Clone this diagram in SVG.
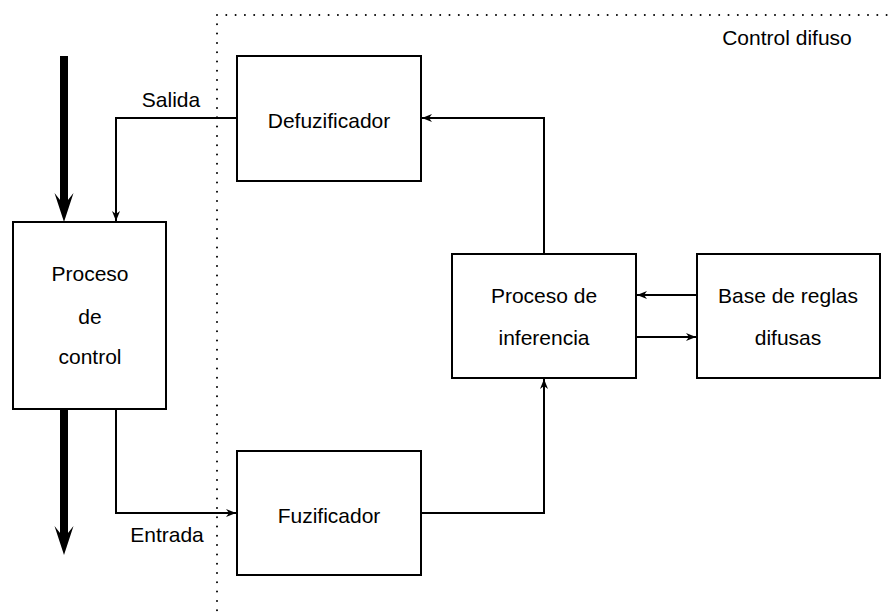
<svg xmlns="http://www.w3.org/2000/svg" width="892" height="616" viewBox="0 0 892 616">
<style>
.box{fill:#fff;stroke:#000;stroke-width:2}
.ln{fill:none;stroke:#000;stroke-width:2}
.thick{fill:none;stroke:#000;stroke-width:8}
.head{fill:#000;stroke:none}
.dot{fill:none;stroke:#000;stroke-width:2;stroke-linecap:round;stroke-dasharray:0 9.3}
text{font-family:"Liberation Sans",Arial,sans-serif;font-size:21px;fill:#000;text-anchor:middle}
</style>
<defs>
<marker id="ah" viewBox="0 0 10 10" refX="10" refY="5" markerWidth="10" markerHeight="10" markerUnits="userSpaceOnUse" orient="auto">
<path d="M0,1 L10,5 L0,9 L3,5 Z" fill="#000"/>
</marker>
</defs>
<g id="region">
<path class="dot" d="M217,15 L217,616"/>
<path class="dot" d="M226.3,15 L892,15"/>
<text x="787" y="45">Control difuso</text>
</g>
<g id="connectors">
<path class="thick" d="M64,56 L64,205"/>
<path class="head" d="M54.5,193 L64,222 L73.5,193 L64,205 Z"/>
<path class="thick" d="M64,409 L64,538"/>
<path class="head" d="M54.5,526 L64,555 L73.5,526 L64,538 Z"/>
<path class="ln" d="M237,118 L116,118 L116,221" marker-end="url(#ah)"/>
<path class="ln" d="M116,409 L116,513 L236,513" marker-end="url(#ah)"/>
<path class="ln" d="M421,513 L544,513 L544,379" marker-end="url(#ah)"/>
<path class="ln" d="M544,254 L544,118 L422,118" marker-end="url(#ah)"/>
<path class="ln" d="M697,295 L637,295" marker-end="url(#ah)"/>
<path class="ln" d="M636,337 L696,337" marker-end="url(#ah)"/>
<text x="171" y="107">Salida</text>
<text x="167" y="542">Entrada</text>
</g>
<g id="proceso-control">
<rect class="box" x="13" y="222" width="153" height="187"/>
<text x="90" y="281">Proceso</text>
<text x="90" y="324">de</text>
<text x="90" y="364">control</text>
</g>
<g id="defuzificador">
<rect class="box" x="237" y="56" width="184" height="125"/>
<text x="329" y="128">Defuzificador</text>
</g>
<g id="fuzificador">
<rect class="box" x="237" y="451" width="184" height="124"/>
<text x="329" y="523">Fuzificador</text>
</g>
<g id="inferencia">
<rect class="box" x="452" y="254" width="184" height="124"/>
<text x="544" y="303">Proceso de</text>
<text x="544" y="345">inferencia</text>
</g>
<g id="base-reglas">
<rect class="box" x="697" y="254" width="183" height="124"/>
<text x="788" y="303">Base de reglas</text>
<text x="788" y="345">difusas</text>
</g>
</svg>
